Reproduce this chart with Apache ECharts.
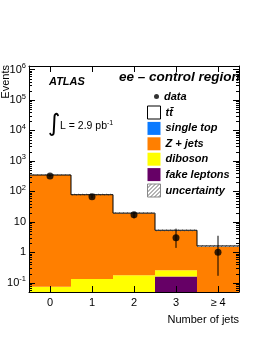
<!DOCTYPE html>
<html><head><meta charset="utf-8">
<script src="https://cdn.jsdelivr.net/npm/echarts@6/dist/echarts.min.js"></script>
<style>html,body{margin:0;padding:0;background:#fff}#c{width:262px;height:339px}</style>
</head><body><div id="c"></div>
<script>
// ---- data ----
const categories = ['0', '1', '2', '3', '\u2265 4'];
const ttbar       = [0.1, 0.2, 0.25, 0.2, 0.1];
const singleTop   = [0.02, 0.04, 0.05, 0.04, 0.02];
const zJets       = [345, 77.5, 18.9, 4.8, 1.5];
const diboson     = [0.075, 0.134, 0.177, 0.10, 0];
const fakeLeptons = [0, 0, 0, 0.16, 0];
const dataValues  = [320, 67, 17, 3, 1];
const dataErrLow  = [18, 8, 4, 1.6, 0.83];
const dataErrHigh = [18, 8, 4, 3, 2.5];
const mcUncertainty = [22, 5, 1.3, 0.35, 0.11];
const yMinValue = 0.05, yMaxValue = 1.3e6;
const minorTickValues = [];
for (let d = -2; d <= 5; d++) for (let k = 2; k <= 9; k++) minorTickValues.push(k * Math.pow(10, d));

const FONT = '"Liberation Sans", Helvetica, Arial, sans-serif';

// hatch pattern
const hatch = document.createElement('canvas');
hatch.width = 4; hatch.height = 4;
(function(){ const g = hatch.getContext('2d'); g.strokeStyle = '#444'; g.lineWidth = 0.8;
  g.beginPath(); g.moveTo(0,4); g.lineTo(4,0); g.moveTo(-1,1); g.lineTo(1,-1); g.moveTo(3,5); g.lineTo(5,3); g.stroke(); })();
const hatchPattern = {image: hatch, repeat: 'repeat'};

const layers = [
  {name: 'fake leptons', values: fakeLeptons, color: '#660066'},
  {name: 'diboson', values: diboson, color: '#ffff00'},
  {name: 'Z + jets', values: zJets, color: '#ff7f00'},
  {name: 'single top', values: singleTop, color: '#0a7aff'},
  {name: 't\u0074\u0304', values: ttbar, color: '#ffffff'}
];
let cum = categories.map(() => 0);
const layerData = layers.map(l => {
  const rows = l.values.map((v, i) => [i, cum[i], cum[i] + v]);
  cum = cum.map((c, i) => c + l.values[i]);
  return rows;
});
const totals = cum.slice();

function clampLo(v) { return Math.max(v, yMinValue); }

function barRender(params, api) {
  const i = api.value(0), lo = clampLo(api.value(1)), hi = api.value(2);
  if (!(hi > lo)) return null;
  const w = api.size([1, 0])[0];
  const pTop = api.coord([i, hi]);
  const pBot = api.coord([i, lo]);
  return {type: 'rect', shape: {x: pTop[0] - w / 2, y: pTop[1], width: w, height: pBot[1] - pTop[1]},
          style: {fill: api.visual('color')}};
}

const series = layers.map((l, k) => ({
  name: l.name, type: 'custom', renderItem: barRender, data: layerData[k],
  itemStyle: {color: l.color}, z: 2 + k * 0.01, clip: true, silent: true
}));

// outline of the total stack
const outlineData = totals.map((t, i) => [i, t, i === 0 ? t : totals[i - 1]]);
series.push({
  type: 'custom', data: outlineData, z: 3, clip: true, silent: true,
  renderItem: function (params, api) {
    const i = api.value(0);
    const w = api.size([1, 0])[0];
    const p = api.coord([i, api.value(1)]);
    const pp = api.coord([i, api.value(2)]);
    return {type: 'polyline', shape: {points: [[p[0] - w / 2, pp[1]], [p[0] - w / 2, p[1]], [p[0] + w / 2, p[1]]]},
            style: {stroke: '#000', lineWidth: 1, fill: null}};
  }
});

// uncertainty band
series.push({
  name: 'uncertainty', type: 'custom', z: 4, clip: true, silent: true,
  data: totals.map((t, i) => [i, t - mcUncertainty[i], t + mcUncertainty[i]]),
  itemStyle: {color: hatchPattern},
  renderItem: function (params, api) {
    const i = api.value(0);
    const w = api.size([1, 0])[0];
    const a = api.coord([i, api.value(2)]);
    const b = api.coord([i, clampLo(api.value(1))]);
    return {type: 'rect', shape: {x: a[0] - w / 2, y: a[1], width: w, height: b[1] - a[1]},
            style: {fill: hatchPattern}};
  }
});

// data error bars
series.push({
  type: 'custom', z: 5, clip: true, silent: true,
  data: dataValues.map((v, i) => [i, v - dataErrLow[i], v + dataErrHigh[i]]),
  renderItem: function (params, api) {
    const i = api.value(0);
    const a = api.coord([i, api.value(2)]);
    const b = api.coord([i, clampLo(api.value(1))]);
    return {type: 'line', shape: {x1: a[0], y1: a[1], x2: b[0], y2: b[1]}, style: {stroke: '#000', lineWidth: 1}};
  }
});
series.push({
  name: 'data', type: 'scatter', z: 6, symbol: 'circle', symbolSize: 7,
  itemStyle: {color: '#000'}, data: dataValues.map((v, i) => [i, v]), silent: true
});

// log minor ticks on both vertical axes
series.push({
  type: 'custom', z: 20, clip: false, silent: true,
  data: minorTickValues.filter(v => v > yMinValue && v < yMaxValue).map(v => [0, v]),
  renderItem: function (params, api) {
    const cs = params.coordSys;
    const y = Math.round(api.coord([0, api.value(1)])[1]) + 0.5;
    return {type: 'group', children: [
      {type: 'line', shape: {x1: cs.x, y1: y, x2: cs.x + 3, y2: y}, style: {stroke: '#000', lineWidth: 1}},
      {type: 'line', shape: {x1: cs.x + cs.width - 3, y1: y, x2: cs.x + cs.width, y2: y}, style: {stroke: '#000', lineWidth: 1}}
    ]};
  }
});

function yLabel(v) {
  const l = Math.log10(v), e = Math.round(l);
  if (Math.abs(l - e) > 1e-6) return '';
  if (e === 0) return '1';
  if (e === 1) return '10';
  return '10{s|' + (e < 0 ? '-' + (-e) : e) + '}';
}

const axisLine = {show: true, lineStyle: {color: '#000', width: 1}};
const option = {
  animation: false,
  backgroundColor: '#fff',
  grid: {left: 29, right: 23, top: 66, bottom: 47, containLabel: false},
  xAxis: [
    {type: 'category', data: categories, position: 'bottom', z: 20,
     axisLine: axisLine, axisTick: {show: true, inside: true, length: 6, alignWithLabel: true, lineStyle: {color: '#000'}},
     axisLabel: {color: '#000', fontFamily: FONT, fontSize: 11, margin: 5}, splitLine: {show: false}},
    {type: 'category', data: categories, position: 'top', z: 20,
     axisLine: axisLine, axisTick: {show: true, inside: true, length: 6, alignWithLabel: true, lineStyle: {color: '#000'}},
     axisLabel: {show: false}, splitLine: {show: false}}
  ],
  yAxis: [
    {type: 'log', min: yMinValue, max: yMaxValue, position: 'left', z: 20,
     axisLine: axisLine, axisTick: {show: true, inside: true, length: 6, lineStyle: {color: '#000'}},
     splitLine: {show: false},
     axisLabel: {color: '#000', fontFamily: FONT, fontSize: 11, margin: 3, formatter: yLabel,
       showMinLabel: false, showMaxLabel: false,
       rich: {s: {fontSize: 7.5, fontFamily: FONT, color: '#000', padding: [0, 0, 7, 0]}}}},
    {type: 'log', min: yMinValue, max: yMaxValue, position: 'right', z: 20,
     axisLine: axisLine, axisTick: {show: true, inside: true, length: 6, lineStyle: {color: '#000'}},
     splitLine: {show: false}, axisLabel: {show: false}}
  ],
  legend: [
    {left: 154, top: 91, orient: 'vertical', padding: 0, itemWidth: 5, itemHeight: 5,
     selectedMode: false, icon: 'circle',
     textStyle: {fontFamily: FONT, fontSize: 11, fontStyle: 'italic', fontWeight: 'bold', color: '#000'},
     data: [{name: 'data', itemStyle: {color: '#000'}}]},
    {left: 147, top: 105.5, orient: 'vertical', padding: 0, itemWidth: 13, itemHeight: 13, itemGap: 2.4,
     selectedMode: false, icon: 'rect',
     textStyle: {fontFamily: FONT, fontSize: 11, fontStyle: 'italic', fontWeight: 'bold', color: '#000'},
     data: [
       {name: 't\u0074\u0304', itemStyle: {color: '#fff', borderColor: '#000', borderWidth: 1}},
       {name: 'single top', itemStyle: {color: '#0a7aff', borderWidth: 0}},
       {name: 'Z + jets', itemStyle: {color: '#ff7f00', borderWidth: 0}},
       {name: 'diboson', itemStyle: {color: '#ffff00', borderWidth: 0}},
       {name: 'fake leptons', itemStyle: {color: '#660066', borderWidth: 0}},
       {name: 'uncertainty', itemStyle: {color: hatchPattern, borderColor: '#888', borderWidth: 1}}
     ]}
  ],
  graphic: [
    {type: 'text', left: 49, top: 76, z: 30,
     style: {text: 'ATLAS', font: 'italic bold 11px ' + FONT, fill: '#000'}},
    {type: 'text', left: 119, top: 70, z: 30,
     style: {text: 'ee \u2013 control region', font: 'italic bold 13.5px ' + FONT, fill: '#000'}},
    {type: 'text', x: 48, y: 125, z: 30,
     style: {text: '\u222B', font: '24px "DejaVu Sans"', fill: '#000', verticalAlign: 'middle', align: 'left'}},
    {type: 'text', x: 60, y: 126, z: 30,
     style: {text: 'L = 2.9 pb{s|-1}', font: '10.5px ' + FONT, fill: '#000', verticalAlign: 'middle', align: 'left',
       rich: {s: {fontSize: 7, fontFamily: FONT, fill: '#000', padding: [0, 0, 6, 0]}}}},
    {type: 'text', x: 6, y: 65, rotation: Math.PI / 2, z: 30,
     style: {text: 'Events', font: '11px ' + FONT, fill: '#000', align: 'right', verticalAlign: 'middle'}},
    {type: 'text', x: 239, y: 320, z: 30,
     style: {text: 'Number of jets', font: '11px ' + FONT, fill: '#000', align: 'right', verticalAlign: 'middle'}}
  ],
  series: series
};
const chart = echarts.init(document.getElementById('c'), null, {renderer: 'canvas'});
chart.setOption(option);
</script></body></html>
